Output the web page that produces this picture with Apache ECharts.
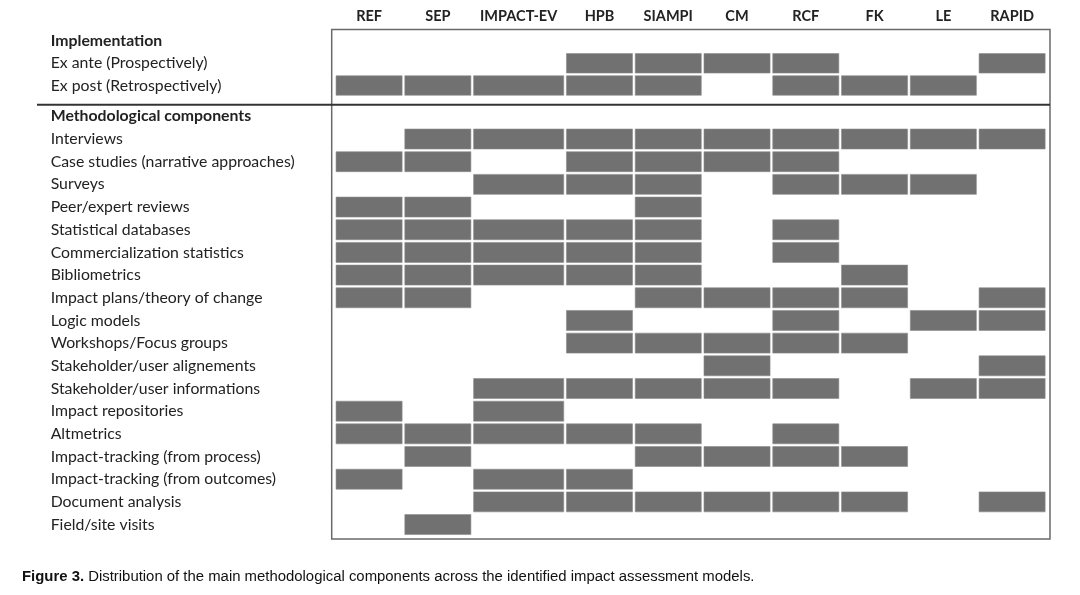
<!DOCTYPE html>
<html>
<head>
<meta charset="utf-8">
<script src="https://cdn.jsdelivr.net/npm/echarts@6/dist/echarts.min.js"></script>
<style>html,body{margin:0;padding:0;background:#fff}#c{width:1080px;height:595px}</style>
</head>
<body>
<div id="c"></div>
<script>
// ---------- DATA ----------
const columns = ['REF','SEP','IMPACT-EV','HPB','SIAMPI','CM','RCF','FK','LE','RAPID'];
const implementationHeader = 'Implementation';
const implementationRows = ['Ex ante (Prospectively)','Ex post (Retrospectively)'];
const implementationMarks = [
  [0,0,0,1,1,1,1,0,0,1],
  [1,1,1,1,1,0,1,1,1,0]
];
const methodHeader = 'Methodological components';
const methodRows = [
  'Interviews',
  'Case studies (narrative approaches)',
  'Surveys',
  'Peer/expert reviews',
  'Statistical databases',
  'Commercialization statistics',
  'Bibliometrics',
  'Impact plans/theory of change',
  'Logic models',
  'Workshops/Focus groups',
  'Stakeholder/user alignements',
  'Stakeholder/user informations',
  'Impact repositories',
  'Altmetrics',
  'Impact-tracking (from process)',
  'Impact-tracking (from outcomes)',
  'Document analysis',
  'Field/site visits'
];
const methodMarks = [
  [0,1,1,1,1,1,1,1,1,1],
  [1,1,0,1,1,1,1,0,0,0],
  [0,0,1,1,1,0,1,1,1,0],
  [1,1,0,0,1,0,0,0,0,0],
  [1,1,1,1,1,0,1,0,0,0],
  [1,1,1,1,1,0,1,0,0,0],
  [1,1,1,1,1,0,0,1,0,0],
  [1,1,0,0,1,1,1,1,0,1],
  [0,0,0,1,0,0,1,0,1,1],
  [0,0,0,1,1,1,1,1,0,0],
  [0,0,0,0,0,1,0,0,0,1],
  [0,0,1,1,1,1,1,0,1,1],
  [1,0,1,0,0,0,0,0,0,0],
  [1,1,1,1,1,0,1,0,0,0],
  [0,1,0,0,1,1,1,1,0,0],
  [1,0,1,1,0,0,0,0,0,0],
  [0,0,1,1,1,1,1,1,0,1],
  [0,1,0,0,0,0,0,0,0,0]
];
const captionBold = 'Figure 3.';
const captionText = ' Distribution of the main methodological components across the identified impact assessment models.';

// ---------- LAYOUT ----------
const wideSpan = {'IMPACT-EV': 1.35};
const spans = columns.map(c => wideSpan[c] || 1);
const starts = [];
let acc = 0;
spans.forEach(s => { starts.push(acc); acc += s; });
const xMax = acc;
const centers = starts.map((s, i) => s + spans[i] / 2);

function buildData(marks) {
  const out = [];
  marks.forEach((row, r) => row.forEach((v, c) => {
    if (v) out.push([starts[c], starts[c] + spans[c], r + 1]);
  }));
  return out;
}

const FONT = 'Lato';
const cellColor = '#717171';

function renderCell(params, api) {
  const p0 = api.coord([api.value(0), api.value(2)]);
  const p1 = api.coord([api.value(1), api.value(2)]);
  const h = api.size([0, 1])[1];
  const g = 1.35;
  return {
    type: 'rect',
    shape: { x: p0[0] + g, y: p0[1] - h / 2 + g, width: p1[0] - p0[0] - 2 * g, height: h - 2 * g },
    style: { fill: cellColor, stroke: '#8c8c8c', lineWidth: 0.6 }
  };
}

const LABEL_SIZE = 15.8;
const yLabel = {
  interval: 0, align: 'left', margin: 284, fontFamily: FONT, fontSize: LABEL_SIZE, color: '#222'
};
const headerStyle = { fontWeight: 'bold', align: 'left', fontFamily: FONT, fontSize: LABEL_SIZE, color: '#222' };

const option = {
  animation: false,
  backgroundColor: '#fff',
  title: {
    left: 17, top: 564,
    text: '{b|' + captionBold + '}' + captionText,
    textStyle: {
      fontFamily: 'Liberation Sans', fontSize: 14.9, color: '#111', fontWeight: 'normal',
      rich: { b: { fontFamily: 'Liberation Sans', fontSize: 14.9, fontWeight: 'bold', color: '#111' } }
    }
  },
  grid: [
    { left: 334.7, right: 33.5, top: 30, height: 66.6, outerBoundsMode: 'none', containLabel: false },
    { left: 334.7, right: 33.5, top: 105, height: 430.9, outerBoundsMode: 'none', containLabel: false }
  ],
  xAxis: [
    {
      gridIndex: 0, type: 'value', min: 0, max: xMax, position: 'top',
      axisLine: { show: false }, axisTick: { show: false }, splitLine: { show: false },
      axisLabel: {
        customValues: centers,
        margin: 6,
        fontFamily: FONT, fontSize: 14.5, fontWeight: 'bold', color: '#222',
        formatter: v => {
          let best = 0, d = Infinity;
          centers.forEach((c, i) => { if (Math.abs(c - v) < d) { d = Math.abs(c - v); best = i; } });
          return columns[best];
        }
      }
    },
    {
      gridIndex: 1, type: 'value', min: 0, max: xMax, show: false
    }
  ],
  yAxis: [
    {
      gridIndex: 0, type: 'category', inverse: true,
      data: [{ value: implementationHeader, textStyle: headerStyle }].concat(implementationRows),
      axisLine: { show: false }, axisTick: { show: false }, splitLine: { show: false },
      axisLabel: yLabel
    },
    {
      gridIndex: 1, type: 'category', inverse: true,
      data: [{ value: methodHeader, textStyle: headerStyle }].concat(methodRows),
      axisLine: { show: false }, axisTick: { show: false }, splitLine: { show: false },
      axisLabel: yLabel
    }
  ],
  series: [
    { type: 'custom', xAxisIndex: 0, yAxisIndex: 0, renderItem: renderCell, data: buildData(implementationMarks), clip: false },
    { type: 'custom', xAxisIndex: 1, yAxisIndex: 1, renderItem: renderCell, data: buildData(methodMarks), clip: false }
  ],
  graphic: [
    { type: 'rect', shape: { x: 331.7, y: 29.5, width: 718.3, height: 509.5 }, style: { fill: 'none', stroke: '#6a6a6a', lineWidth: 1.5 }, z: 10 },
    { type: 'line', shape: { x1: 37, y1: 104.7, x2: 1050, y2: 104.7 }, style: { stroke: '#333', lineWidth: 2 }, z: 10 }
  ]
};

const chart = echarts.init(document.getElementById('c'), null, { renderer: 'canvas' });
chart.setOption(option);
</script>
</body>
</html>
